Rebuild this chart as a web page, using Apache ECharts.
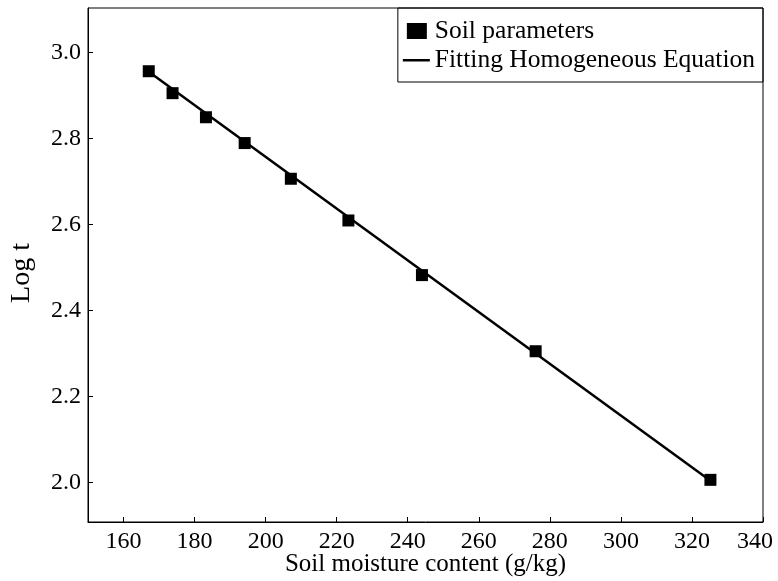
<!DOCTYPE html>
<html>
<head>
<meta charset="utf-8">
<style>
  html, body { margin: 0; padding: 0; background: #fff; }
  #chart { width: 778px; height: 581px; }
</style>
<script src="https://cdn.jsdelivr.net/npm/echarts@6/dist/echarts.min.js"></script>
</head>
<body>
<div id="chart"></div>
<script>
  // measured points
  const moisture = [167.1, 173.8, 183.2, 194.1, 207.1, 223.3, 244.0, 276.0, 325.2];
  const logT = [2.956, 2.905, 2.849, 2.789, 2.706, 2.609, 2.482, 2.305, 2.006];
  // fitted line end points
  const fitX = [167.1, 325.2];
  const fitY = [2.955, 2.004];
  const xTicks = [160, 180, 200, 220, 240, 260, 280, 300, 320, 340];
  const yTicks = [2.0, 2.2, 2.4, 2.6, 2.8, 3.0];

  const font = "'Liberation Serif', 'Times New Roman', serif";

  // legend icons: the extra moveTo points fix the bounding box to 27x16
  const squareIcon = 'path://M0,0 M27,16 M4,0 L24,0 L24,16 L4,16 Z';
  const lineIcon = 'path://M0,0 M27,16 M0,7 L27,7 L27,9.5 L0,9.5 Z';

  const chart = echarts.init(document.getElementById('chart'));
  const option = {
    animation: false,
    textStyle: { fontFamily: font, color: '#000' },
    grid: {
      left: 88,
      right: 15,
      top: 8,
      bottom: 59,
      outerBoundsMode: 'none',
      show: true,
      borderColor: '#000',
      borderWidth: 1,
    },
    legend: {
      right: 15,
      top: 8,
      orient: 'vertical',
      align: 'left',
      padding: [10, 8, 9, 5],
      itemGap: 3,
      itemWidth: 27,
      itemHeight: 16,
      borderColor: '#000',
      borderWidth: 1,
      textStyle: { fontFamily: font, fontSize: 25.5, color: '#000' },
      data: [
        { name: 'Soil parameters', icon: squareIcon },
        { name: 'Fitting Homogeneous Equation', icon: lineIcon },
      ],
    },
    xAxis: {
      type: 'value',
      min: 150,
      max: 340,
      name: 'Soil moisture content (g/kg)',
      nameLocation: 'middle',
      nameGap: 30,
      nameMoveOverlap: false,
      nameTextStyle: { fontFamily: font, fontSize: 25, color: '#000' },
      splitLine: { show: false },
      axisLine: { lineStyle: { color: '#000', width: 1 } },
      axisTick: {
        inside: true,
        length: 5,
        customValues: xTicks,
        lineStyle: { color: '#000' },
      },
      axisLabel: {
        customValues: xTicks,
        margin: 8,
        fontFamily: font,
        fontSize: 24,
        color: '#000',
        // last label sits a little left of the frame edge
        formatter: (v) => (v === 340 ? '{last|340}' : String(v)),
        rich: {
          last: { fontFamily: font, fontSize: 24, color: '#000', padding: [0, 16, 0, 0] },
        },
      },
    },
    yAxis: {
      type: 'value',
      min: 1.908,
      max: 3.103,
      name: 'Log t',
      nameLocation: 'middle',
      nameGap: 52,
      nameTextStyle: { fontFamily: font, fontSize: 28, color: '#000', padding: [0, 16, 0, 0] },
      splitLine: { show: false },
      axisLine: { show: true, lineStyle: { color: '#000', width: 1 } },
      axisTick: {
        show: true,
        inside: true,
        length: 5,
        customValues: yTicks,
        lineStyle: { color: '#000' },
      },
      axisLabel: {
        customValues: yTicks,
        margin: 7,
        fontFamily: font,
        fontSize: 24,
        color: '#000',
        formatter: (v) => v.toFixed(1),
      },
    },
    series: [
      {
        name: 'Soil parameters',
        type: 'scatter',
        symbol: 'rect',
        symbolSize: 12,
        z: 3,
        itemStyle: { color: '#000', opacity: 1 },
        data: moisture.map((x, i) => [x, logT[i]]),
      },
      {
        name: 'Fitting Homogeneous Equation',
        type: 'line',
        symbol: 'none',
        z: 2,
        lineStyle: { color: '#000', width: 2.5 },
        itemStyle: { color: '#000' },
        data: fitX.map((x, i) => [x, fitY[i]]),
      },
    ],
  };
  chart.setOption(option);
</script>
</body>
</html>
